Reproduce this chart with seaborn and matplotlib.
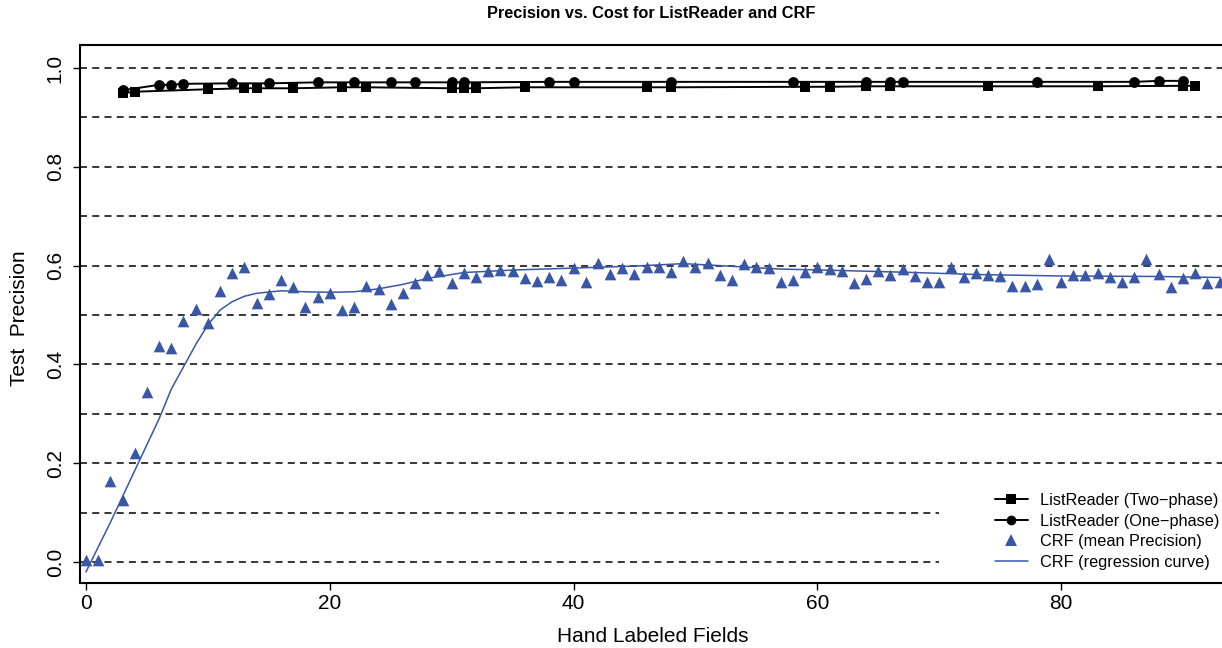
import matplotlib
matplotlib.use("Agg")
import matplotlib.pyplot as plt
from matplotlib.lines import Line2D
import seaborn as sns
import pandas as pd

# ListReader, two-phase training
two_phase_x = [3, 4, 10, 13, 14, 17, 21, 23, 30, 31, 32, 36, 46, 48, 59, 61, 64, 66, 74, 83, 90, 91]
two_phase_y = [0.949, 0.952, 0.957, 0.959, 0.959, 0.959, 0.961, 0.961, 0.959, 0.959, 0.959,
               0.961, 0.961, 0.961, 0.962, 0.962, 0.963, 0.963, 0.963, 0.963, 0.964, 0.964]

# ListReader, one-phase training
one_phase_x = [3, 6, 7, 8, 12, 15, 19, 22, 25, 27, 30, 31, 38, 40, 48, 58, 64, 66, 67, 78, 86, 88, 90]
one_phase_y = [0.955, 0.966, 0.966, 0.968, 0.969, 0.969, 0.971, 0.971, 0.971, 0.971, 0.971, 0.971,
               0.972, 0.972, 0.972, 0.972, 0.972, 0.972, 0.972, 0.972, 0.972, 0.974, 0.974]

# CRF mean precision per number of hand-labeled fields
crf_x = list(range(0, 94))
crf_y = [0.004, 0.004, 0.164, 0.126, 0.221, 0.345, 0.437, 0.433, 0.488, 0.513,
         0.484, 0.549, 0.586, 0.597, 0.524, 0.543, 0.571, 0.556, 0.517, 0.537,
         0.545, 0.511, 0.517, 0.559, 0.553, 0.522, 0.544, 0.565, 0.581, 0.589,
         0.565, 0.586, 0.576, 0.590, 0.591, 0.590, 0.574, 0.569, 0.576, 0.571,
         0.595, 0.567, 0.605, 0.584, 0.595, 0.584, 0.597, 0.598, 0.588, 0.609,
         0.598, 0.606, 0.582, 0.571, 0.603, 0.597, 0.595, 0.567, 0.571, 0.588,
         0.597, 0.593, 0.589, 0.564, 0.572, 0.590, 0.580, 0.593, 0.578, 0.567,
         0.567, 0.598, 0.576, 0.586, 0.582, 0.578, 0.559, 0.559, 0.562, 0.613,
         0.567, 0.581, 0.580, 0.586, 0.576, 0.566, 0.576, 0.613, 0.583, 0.557,
         0.575, 0.586, 0.565, 0.567]

# CRF regression curve
curve_x = [0, 2, 4, 6, 7, 8, 9, 10, 11, 12, 13, 14, 16, 18, 20, 22, 24, 26, 28, 31,
           35, 40, 45, 49, 52, 57, 62, 68, 73, 80, 88, 93]
curve_y = [-0.02, 0.08, 0.185, 0.29, 0.35, 0.395, 0.44, 0.48, 0.51, 0.527, 0.538, 0.544,
           0.549, 0.547, 0.546, 0.547, 0.553, 0.562, 0.574, 0.586, 0.591, 0.595, 0.599,
           0.604, 0.600, 0.593, 0.590, 0.586, 0.582, 0.579, 0.578, 0.576]

x_ticks = [0, 20, 40, 60, 80]
y_ticks = [0.0, 0.2, 0.4, 0.6, 0.8, 1.0]
y_tick_labels = ["0.0", "0.2", "0.4", "0.6", "0.8", "1.0"]
grid_full = [0.2, 0.3, 0.4, 0.5, 0.6, 0.7, 0.8, 0.9, 1.0]
grid_short = [0.0, 0.1]

legend_labels = ["ListReader (Two\u2212phase)", "ListReader (One\u2212phase)",
                 "CRF (mean Precision)", "CRF (regression curve)"]

sns.set_theme(style="ticks")
plt.rcParams["font.family"] = ["Liberation Sans", "DejaVu Sans"]
plt.rcParams["axes.unicode_minus"] = True
plt.rcParams["text.color"] = "black"
plt.rcParams["axes.labelcolor"] = "black"

BLUE = "#3A56A7"
W, H = 1222, 648
fig = plt.figure(figsize=(W / 100, H / 100), dpi=100)
ax = fig.add_axes([80 / W, 1 - 583 / H, 1 - 80 / W, (583 - 45) / H])

ax.set_xlim(-0.49, 93.2)
ax.set_ylim(-0.0425, 1.0466)

dash = (0, (4.6, 3.4))
for g in grid_full:
    ax.axhline(g, color="black", lw=1.1, ls=dash, zorder=1)
ax.hlines(grid_short, -0.49, 70, colors="black", lw=1.1, linestyles=[dash], zorder=1)

df_two = pd.DataFrame({"x": two_phase_x, "y": two_phase_y})
df_one = pd.DataFrame({"x": one_phase_x, "y": one_phase_y})
df_crf = pd.DataFrame({"x": crf_x, "y": crf_y})
df_curve = pd.DataFrame({"x": curve_x, "y": curve_y})

sns.lineplot(data=df_two, x="x", y="y", ax=ax, color="black", lw=1.4, marker="s",
             markersize=7.8, markeredgewidth=0, estimator=None, sort=True, zorder=3)
sns.lineplot(data=df_one, x="x", y="y", ax=ax, color="black", lw=1.4, marker="o",
             markersize=7.8, markeredgewidth=0, estimator=None, sort=True, zorder=3)
sns.scatterplot(data=df_crf, x="x", y="y", ax=ax, color=BLUE, marker="^", s=8.4 ** 2,
                linewidth=0, zorder=3)
sns.lineplot(data=df_curve, x="x", y="y", ax=ax, color=BLUE, lw=1.1, estimator=None,
             sort=True, zorder=2)

ax.set_xlabel("")
ax.set_ylabel("")
ax.set_xticks(x_ticks)
ax.set_yticks(y_ticks)
ax.set_yticklabels(y_tick_labels, rotation=90, va="center")
ax.tick_params(axis="both", direction="out", length=5, width=1.0, color="black",
               labelsize=15, labelcolor="black")
ax.tick_params(axis="x", pad=3)
ax.tick_params(axis="y", pad=6)

for side in ["left", "bottom", "top"]:
    ax.spines[side].set_color("black")
    ax.spines[side].set_linewidth(1.5)
ax.spines["right"].set_visible(False)

cx = (80 + W) / 2 / W
fig.text(cx, 1 - 14 / H, "Precision vs. Cost for ListReader and CRF", ha="center",
         va="center", fontsize=11.8, fontweight="bold", color="black")
fig.text(653 / W, 1 - 636 / H, "Hand Labeled Fields", ha="center", va="center",
         fontsize=15, color="black")
fig.text(20 / W, 1 - 318 / H, "Test  Precision", ha="center", va="center",
         rotation=90, fontsize=15, color="black")

handles = [
    Line2D([], [], color="black", lw=1.4, marker="s", markersize=7, markeredgewidth=0),
    Line2D([], [], color="black", lw=1.4, marker="o", markersize=7, markeredgewidth=0),
    Line2D([], [], color=BLUE, lw=0, marker="^", markersize=8, markeredgewidth=0),
    Line2D([], [], color=BLUE, lw=1.1),
]
leg = fig.legend(handles, legend_labels, loc="upper left",
                 bbox_to_anchor=(995 / W, 1 - 493 / H), frameon=False, fontsize=11.7,
                 handlelength=2.0, handletextpad=0.75, labelspacing=0.34, borderpad=0,
                 borderaxespad=0)
for t in leg.get_texts():
    t.set_color("black")

fig.savefig("out.png", dpi=100)
